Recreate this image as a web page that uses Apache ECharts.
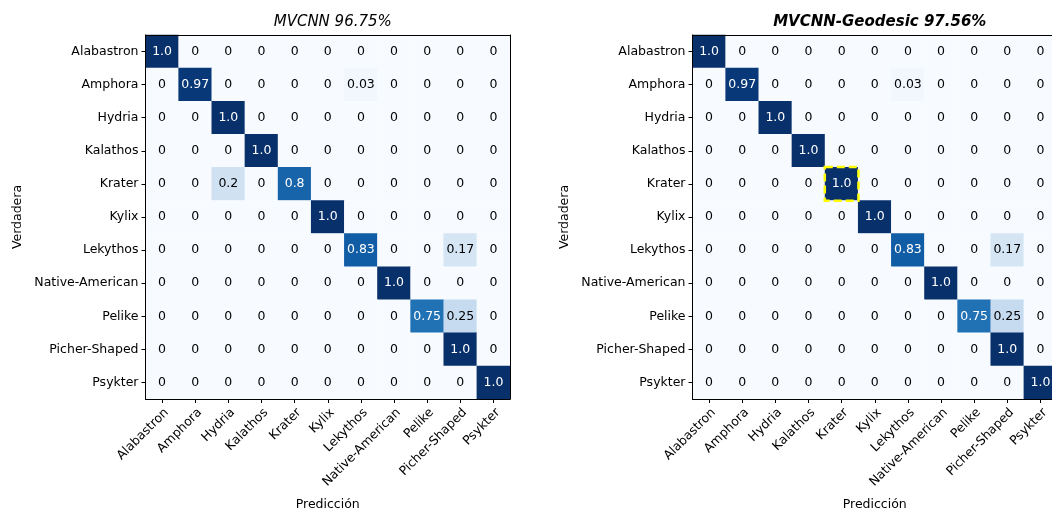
<!DOCTYPE html>
<html>
<head>
<meta charset="utf-8">
<script src="https://cdn.jsdelivr.net/npm/echarts@6/dist/echarts.min.js"></script>
<style>
  html, body { margin: 0; padding: 0; background: #ffffff; }
  #chart { width: 1052px; height: 511px; }
</style>
</head>
<body>
<div id="chart"></div>
<script>
// Vase classes (shared by rows = true class and columns = predicted class)
const classes = ['Alabastron', 'Amphora', 'Hydria', 'Kalathos', 'Krater', 'Kylix',
  'Lekythos', 'Native-American', 'Pelike', 'Picher-Shaped', 'Psykter'];

// Normalized confusion matrix, MVCNN (row = true class)
const mvcnnMatrix = [
  [1.0, 0, 0, 0, 0, 0, 0, 0, 0, 0, 0],
  [0, 0.97, 0, 0, 0, 0, 0.03, 0, 0, 0, 0],
  [0, 0, 1.0, 0, 0, 0, 0, 0, 0, 0, 0],
  [0, 0, 0, 1.0, 0, 0, 0, 0, 0, 0, 0],
  [0, 0, 0.2, 0, 0.8, 0, 0, 0, 0, 0, 0],
  [0, 0, 0, 0, 0, 1.0, 0, 0, 0, 0, 0],
  [0, 0, 0, 0, 0, 0, 0.83, 0, 0, 0.17, 0],
  [0, 0, 0, 0, 0, 0, 0, 1.0, 0, 0, 0],
  [0, 0, 0, 0, 0, 0, 0, 0, 0.75, 0.25, 0],
  [0, 0, 0, 0, 0, 0, 0, 0, 0, 1.0, 0],
  [0, 0, 0, 0, 0, 0, 0, 0, 0, 0, 1.0]
];

// Normalized confusion matrix, MVCNN-Geodesic (row = true class)
const geodesicMatrix = [
  [1.0, 0, 0, 0, 0, 0, 0, 0, 0, 0, 0],
  [0, 0.97, 0, 0, 0, 0, 0.03, 0, 0, 0, 0],
  [0, 0, 1.0, 0, 0, 0, 0, 0, 0, 0, 0],
  [0, 0, 0, 1.0, 0, 0, 0, 0, 0, 0, 0],
  [0, 0, 0, 0, 1.0, 0, 0, 0, 0, 0, 0],
  [0, 0, 0, 0, 0, 1.0, 0, 0, 0, 0, 0],
  [0, 0, 0, 0, 0, 0, 0.83, 0, 0, 0.17, 0],
  [0, 0, 0, 0, 0, 0, 0, 1.0, 0, 0, 0],
  [0, 0, 0, 0, 0, 0, 0, 0, 0.75, 0.25, 0],
  [0, 0, 0, 0, 0, 0, 0, 0, 0, 1.0, 0],
  [0, 0, 0, 0, 0, 0, 0, 0, 0, 0, 1.0]
];

// Panel titles
const titles = ['MVCNN 96.75%', 'MVCNN-Geodesic 97.56%'];

// Cell that improved with the geodesic model: [predicted, true]
const improvedCell = ['Krater', 'Krater'];

const FONT = 'DejaVu Sans';
const FS = 12.5;
const blues = ['#f7fbff', '#deebf7', '#c6dbef', '#9ecae1', '#6baed6',
  '#4292c6', '#2171b5', '#08519c', '#08306b'];

function toCells(matrix) {
  const cells = [];
  matrix.forEach((row, r) => {
    row.forEach((v, c) => cells.push([c, r, v]));
  });
  return cells;
}

function fmt(v) {
  if (v === 0) return '0';
  if (Number.isInteger(v)) return v.toFixed(1);
  return String(v);
}

const grids = [
  { left: 145.5, top: 35, width: 364.5, height: 364, outerBoundsMode: 'none', containLabel: false },
  { left: 692.5, top: 35, width: 364.5, height: 364, outerBoundsMode: 'none', containLabel: false }
];

const axisLineStyle = { color: '#000000', width: 1 };

function bottomAxis(g) {
  return {
    type: 'category', gridIndex: g, data: classes, position: 'bottom', z: 10,
    axisLine: { show: true, lineStyle: axisLineStyle },
    axisTick: { show: true, alignWithLabel: true, length: 4, lineStyle: { color: '#000', width: 1 } },
    // anchor each rotated label by its upper-right corner
    axisLabel: { rotate: 45, margin: 7, align: 'right', verticalAlign: 'top',
      fontFamily: FONT, fontSize: FS, color: '#000', interval: 0 },
    splitLine: { show: false },
    name: 'Predicción', nameLocation: 'middle', nameGap: 99,
    nameTextStyle: { fontFamily: FONT, fontSize: FS, color: '#000' }
  };
}
function topAxis(g) {
  return {
    type: 'category', gridIndex: g, data: classes, position: 'top', z: 10,
    axisLine: { show: true, lineStyle: axisLineStyle },
    axisTick: { show: false }, axisLabel: { show: false }, splitLine: { show: false }
  };
}
function leftAxis(g) {
  return {
    type: 'category', gridIndex: g, data: classes, inverse: true, position: 'left', z: 10,
    axisLine: { show: true, lineStyle: axisLineStyle },
    axisTick: { show: true, alignWithLabel: true, length: 4, lineStyle: { color: '#000', width: 1 } },
    axisLabel: { margin: 7, fontFamily: FONT, fontSize: FS, color: '#000', interval: 0 },
    splitLine: { show: false },
    name: 'Verdadera', nameLocation: 'middle', nameGap: 121, nameRotate: 90,
    nameTextStyle: { fontFamily: FONT, fontSize: FS, color: '#000' }
  };
}
function rightAxis(g) {
  return {
    type: 'category', gridIndex: g, data: classes, inverse: true, position: 'right', z: 10,
    axisLine: { show: true, lineStyle: axisLineStyle },
    axisTick: { show: false }, axisLabel: { show: false }, splitLine: { show: false }
  };
}

function matrixSeries(g, matrix) {
  return {
    type: 'heatmap', xAxisIndex: g, yAxisIndex: g,
    data: toCells(matrix),
    itemStyle: { borderWidth: 0 },
    label: {
      show: true,
      formatter: p => (p.value[2] > 0.5 ? '{w|' : '{k|') + fmt(p.value[2]) + '}',
      rich: {
        w: { color: '#ffffff', fontFamily: FONT, fontSize: FS },
        k: { color: '#000000', fontFamily: FONT, fontSize: FS }
      }
    },
    emphasis: { disabled: true }
  };
}

const chart = echarts.init(document.getElementById('chart'), null, { renderer: 'canvas' });
chart.setOption({
  animation: false,
  backgroundColor: '#ffffff',
  title: [
    { text: titles[0], left: 327.75, top: 10, textAlign: 'center',
      textStyle: { fontFamily: FONT, fontSize: 15, fontStyle: 'italic', fontWeight: 'normal', color: '#000' } },
    { text: titles[1], left: 874.75, top: 10, textAlign: 'center',
      textStyle: { fontFamily: FONT, fontSize: 15, fontStyle: 'italic', fontWeight: 'bold', color: '#000' } }
  ],
  grid: grids,
  xAxis: [bottomAxis(0), bottomAxis(1), topAxis(0), topAxis(1)],
  yAxis: [leftAxis(0), leftAxis(1), rightAxis(0), rightAxis(1)],
  visualMap: {
    type: 'continuous', show: false, min: 0, max: 1, seriesIndex: [0, 1],
    inRange: { color: blues }
  },
  series: [
    matrixSeries(0, mvcnnMatrix),
    matrixSeries(1, geodesicMatrix),
    {
      type: 'heatmap', xAxisIndex: 1, yAxisIndex: 1, z: 5,
      data: [[classes.indexOf(improvedCell[0]), classes.indexOf(improvedCell[1]), 1]],
      itemStyle: { color: 'rgba(0,0,0,0)', borderColor: '#ffff00', borderWidth: 2.5, borderType: [8, 4] },
      label: { show: false },
      emphasis: { disabled: true }
    }
  ]
});
</script>
</body>
</html>
